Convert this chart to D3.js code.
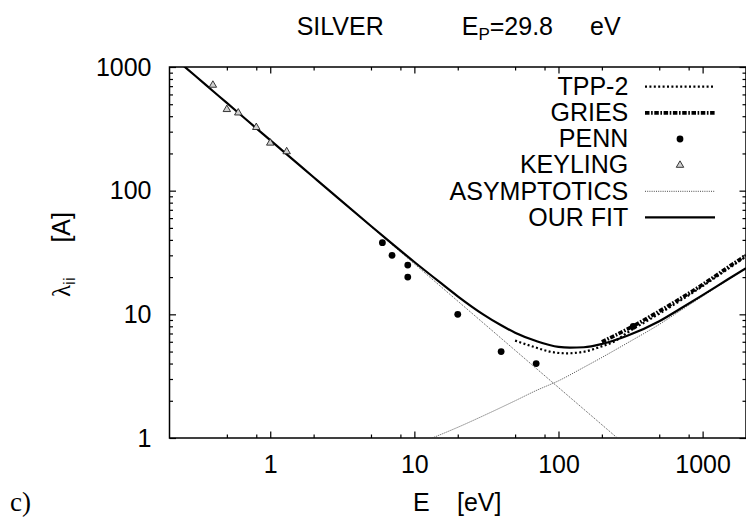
<!DOCTYPE html>
<html>
<head>
<meta charset="utf-8">
<script src="https://cdn.jsdelivr.net/npm/d3@7"></script>
<style>
  html, body { margin: 0; padding: 0; background: #fff; }
  svg { display: block; font-family: "Liberation Sans", Arial, sans-serif; }
</style>
</head>
<body>
<svg id="chart" width="746" height="523"></svg>
<script>
// Inelastic mean free path of electrons in silver (log-log)

// OUR FIT
const fitE = [0.25, 0.3, 0.4, 0.5, 0.7, 1, 1.5, 2, 3, 5, 7, 10, 15, 20, 30, 40, 50, 70, 100, 120, 150, 200, 300, 500, 700, 1000, 1500, 2000];
const fitL = [1024, 853, 640, 512, 366, 256, 171, 128.4, 85.8, 51.8, 37.3, 26.5, 18.2, 14.0, 10.0, 8.15, 7.1, 6.08, 5.45, 5.38, 5.42, 5.76, 6.71, 8.8, 11.1, 14.3, 19.2, 23.6];

// ASYMPTOTICS: low-energy branch and high-energy branch
const lowAsymE = [0.25, 256];
const lowAsymL = [1024, 1];
const highAsymE = [13.3, 20, 30, 50, 70, 100, 150, 200, 300, 500, 700, 1000, 1500, 2000];
const highAsymL = [1, 1.22, 1.51, 2.0, 2.42, 2.9, 3.73, 4.48, 5.86, 8.29, 10.7, 14.0, 19.0, 23.5];

// TPP-2
const tppE = [50, 67, 88, 114, 150, 196, 242, 300, 500, 700, 1000, 1500, 2000];
const tppL = [6.13, 5.47, 4.98, 4.84, 4.98, 5.47, 6.0, 7.1, 10.1, 12.9, 16.9, 23.3, 29.3];

// GRIES
const griesE = [200, 300, 500, 700, 1000, 1500, 2000];
const griesL = [6.0, 7.58, 10.6, 13.4, 17.4, 24, 30];

// PENN
const pennE = [6, 7, 9, 9, 20, 40, 70, 330];
const pennL = [38, 30, 25, 20, 10, 5, 4, 8];

// KEYLING
const keylingE = [0.4, 0.5, 0.6, 0.8, 1.0, 1.3];
const keylingL = [714, 454, 426, 325, 243, 207];

// Ticks
const xMajor = [1, 10, 100, 1000];
const xMinor = [0.5, 0.8, 2, 5, 8, 20, 50, 80, 200, 500, 800];
const yMajor = [1, 10, 100, 1000];
const yMinor = [2, 3, 4, 5, 6, 7, 8, 9, 20, 30, 40, 50, 60, 70, 80, 90, 200, 300, 400, 500, 600, 700, 800, 900];

const legendLabels = ["TPP-2", "GRIES", "PENN", "KEYLING", "ASYMPTOTICS", "OUR FIT"];

const svg = d3.select("#chart");
const L = 169.5, R = 746, T = 67, B = 438;

const x = d3.scaleLog().domain([0.2, 2000]).range([L, R]);
const y = d3.scaleLog().domain([1, 1000]).range([B, T]);

const pairs = (xs, ys) => xs.map((e, i) => [e, ys[i]]);

svg.append("defs").append("clipPath").attr("id", "plotclip")
  .append("rect").attr("x", L).attr("y", T).attr("width", R - L).attr("height", B - T);

// Axes (ticks drawn inward on all four sides)
const fontSize = 25;
const axBottom = svg.append("g").attr("transform", `translate(0,${B})`)
  .call(d3.axisBottom(x).tickValues(xMajor).tickFormat(d3.format("d")).tickSizeInner(-6.5).tickSizeOuter(0).tickPadding(17));
axBottom.append("g").call(d3.axisBottom(x).tickValues(xMinor).tickFormat("").tickSizeInner(-3.5).tickSizeOuter(0));
const axTop = svg.append("g").attr("transform", `translate(0,${T})`)
  .call(d3.axisTop(x).tickValues(xMajor).tickFormat("").tickSizeInner(-6.5).tickSizeOuter(0));
axTop.append("g").call(d3.axisTop(x).tickValues(xMinor).tickFormat("").tickSizeInner(-3.5).tickSizeOuter(0));
const axLeft = svg.append("g").attr("transform", `translate(${L},0)`)
  .call(d3.axisLeft(y).tickValues(yMajor).tickFormat(d3.format("d")).tickSizeInner(-6.5).tickSizeOuter(0).tickPadding(18));
axLeft.append("g").call(d3.axisLeft(y).tickValues(yMinor).tickFormat("").tickSizeInner(-3.5).tickSizeOuter(0));
const axRight = svg.append("g").attr("transform", `translate(${R},0)`)
  .call(d3.axisRight(y).tickValues(yMajor).tickFormat("").tickSizeInner(-6.5).tickSizeOuter(0));
axRight.append("g").call(d3.axisRight(y).tickValues(yMinor).tickFormat("").tickSizeInner(-3.5).tickSizeOuter(0));

svg.selectAll(".domain").remove();
svg.selectAll(".tick line").attr("stroke", "#000").attr("stroke-width", 1.2);
svg.selectAll(".tick text").attr("font-size", fontSize).attr("fill", "#000")
  .attr("font-family", "Liberation Sans, Arial, sans-serif");

// Frame
svg.append("rect").attr("x", L).attr("y", T).attr("width", R - L).attr("height", B - T)
  .attr("fill", "none").attr("stroke", "#000").attr("stroke-width", 1.5);

const line = d3.line().x(d => x(d[0])).y(d => y(d[1])).curve(d3.curveMonotoneX);
const plot = svg.append("g").attr("clip-path", "url(#plotclip)");

// Line styles
const styles = {
  asym:  { w: 0.9, dash: "1,1.2", col: "#333" },
  tpp:   { w: 2.2, dash: "2,2.4", col: "#000" },
  gries: { w: 3.6, dash: "4.5,1.6,1.6,1.6", col: "#000" },
  fit:   { w: 2.2, dash: null, col: "#000" }
};
const styled = (sel, s) => sel.attr("fill", "none").attr("stroke", s.col)
  .attr("stroke-width", s.w).attr("stroke-dasharray", s.dash);

// Asymptotics
styled(plot.append("path").datum(pairs(lowAsymE, lowAsymL)).attr("d", line), styles.asym);
styled(plot.append("path").datum(pairs(highAsymE, highAsymL)).attr("d", line), styles.asym);

// TPP-2
styled(plot.append("path").datum(pairs(tppE, tppL)).attr("d", line), styles.tpp);

// GRIES
styled(plot.append("path").datum(pairs(griesE, griesL)).attr("d", line), styles.gries);

// OUR FIT
styled(plot.append("path").datum(pairs(fitE, fitL)).attr("d", line), styles.fit);

// PENN
plot.selectAll("circle.penn").data(pairs(pennE, pennL)).join("circle").attr("class", "penn")
  .attr("cx", d => x(d[0])).attr("cy", d => y(d[1])).attr("r", 3.4).attr("fill", "#000");

// KEYLING
const tri = d3.symbol(d3.symbolTriangle, 24);
plot.selectAll("path.keyling").data(pairs(keylingE, keylingL)).join("path").attr("class", "keyling")
  .attr("d", tri).attr("transform", d => `translate(${x(d[0])},${y(d[1])})`)
  .attr("fill", "#d0d0d0").attr("stroke", "#222").attr("stroke-width", 0.9);

// Legend
const lg = svg.append("g");
const rowY = i => 86.7 + 26.15 * i;
legendLabels.forEach((t, i) => {
  lg.append("text").attr("x", 628.3).attr("y", rowY(i) + 8.2).attr("text-anchor", "end")
    .attr("font-size", fontSize).text(t);
});
const sample = (i, s) => styled(lg.append("line").attr("x1", 645).attr("x2", 715)
  .attr("y1", rowY(i)).attr("y2", rowY(i)), s);
sample(0, styles.tpp);
sample(1, styles.gries);
lg.append("circle").attr("cx", 680).attr("cy", rowY(2)).attr("r", 3.4).attr("fill", "#000");
lg.append("path").attr("d", tri).attr("transform", `translate(680,${rowY(3)})`)
  .attr("fill", "#d0d0d0").attr("stroke", "#222").attr("stroke-width", 0.9);
sample(4, styles.asym);
sample(5, styles.fit);

// Title
const title = svg.append("text").attr("y", 35).attr("font-size", fontSize);
title.append("tspan").attr("x", 296.7).text("SILVER");
title.append("tspan").attr("x", 461.7).text("E");
title.append("tspan").attr("font-size", 17).attr("dy", 5).text("P");
title.append("tspan").attr("dy", -5).text("=29.8");
title.append("tspan").attr("x", 590).text("eV");

// Axis titles
svg.append("text").attr("x", 413).attr("y", 511).attr("font-size", fontSize).text("E");
svg.append("text").attr("x", 457).attr("y", 511).attr("font-size", fontSize).text("[eV]");

const yl = svg.append("text").attr("transform", "translate(70,297) rotate(-90)").attr("font-size", fontSize);
yl.append("tspan").attr("font-family", "Liberation Serif, Times New Roman, serif").text("λ");
yl.append("tspan").attr("font-size", 17).attr("dy", 5).text("ii");
svg.append("text").attr("transform", "translate(70,242.6) rotate(-90)").attr("font-size", fontSize).text("[A]");

svg.append("text").attr("x", 10).attr("y", 511).attr("font-size", 27)
  .attr("font-family", "Liberation Serif, Times New Roman, serif").text("c)");
</script>
</body>
</html>
